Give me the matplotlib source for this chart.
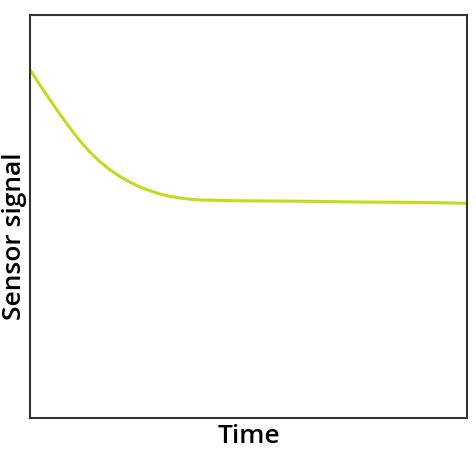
import matplotlib.pyplot as plt

# signal (arbitrary units, time 0-100)
time = [0, 2.3, 4.6, 6.9, 9.2, 11.4, 13.7, 16.0, 18.3, 20.6, 22.9, 25.2,
        27.5, 29.7, 32.0, 34.3, 36.6, 38.9, 43.5, 48.1, 61.8, 75.5, 89.2, 100]
signal = [86.4, 82.6, 78.9, 75.3, 71.9, 68.8, 66.0, 63.6, 61.6, 59.9, 58.5, 57.3,
          56.4, 55.6, 55.0, 54.6, 54.3, 54.1, 54.0, 53.9, 53.8, 53.6, 53.5, 53.3]

fig = plt.figure(figsize=(4.77, 4.58), dpi=100)
ax = fig.add_axes([0.0629, 0.0873, 0.9161, 0.8799])

ax.plot(time, signal, color="#c5da1f", linewidth=2.2,
        solid_capstyle="round", solid_joinstyle="round")

ax.set_xlim(0, 100)
ax.set_ylim(0, 100)
ax.set_xticks([])
ax.set_yticks([])
for s in ax.spines.values():
    s.set_linewidth(1.5)
    s.set_color("#333333")

hfont = {"fontname": "Open Sans", "fontsize": 19, "fontweight": "semibold"}
ax.set_xlabel("Time", labelpad=4, **hfont)
ax.set_ylabel("Sensor signal", **hfont)
ax.yaxis.set_label_coords(-0.008, 0.45)

fig.savefig("out.png", dpi=100)
